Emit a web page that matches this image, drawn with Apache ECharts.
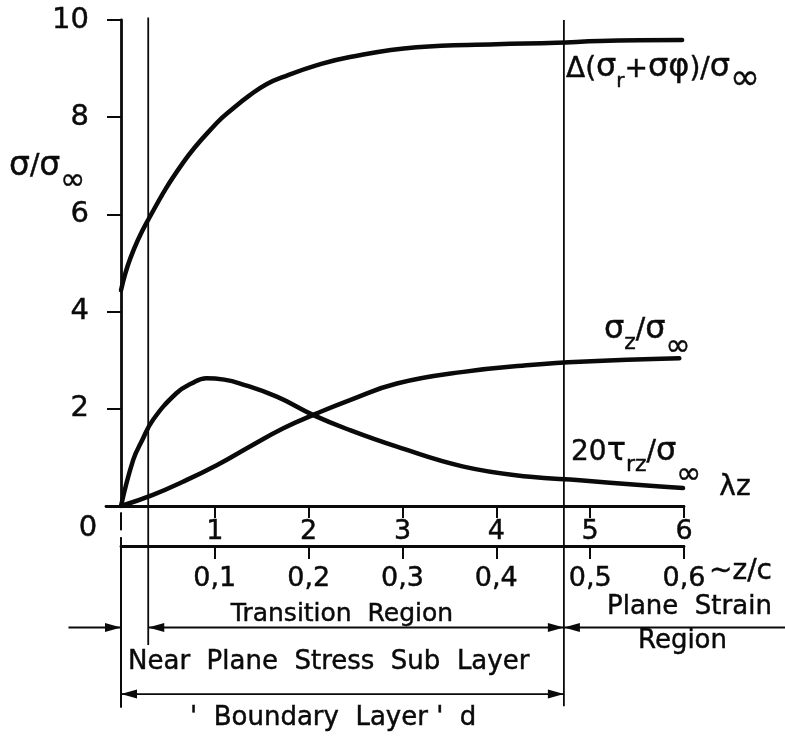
<!DOCTYPE html>
<html><head><meta charset="utf-8">
<script src="https://cdn.jsdelivr.net/npm/echarts@6/dist/echarts.min.js"></script>
<style>html,body{margin:0;padding:0;background:#fff}#c{width:785px;height:742px}</style>
</head><body><div id="c"></div>
<script>
// ---- data ----
const yTicks = [0, 2, 4, 6, 8, 10];
const xTicks = [1, 2, 3, 4, 5, 6];              // λz
const zcTicks = [0.1, 0.2, 0.3, 0.4, 0.5, 0.6]; // z/c

const sumLambda = [0, 0.1, 0.27, 0.66, 1.02, 1.2, 1.37, 1.55, 1.73, 2.09, 2.44, 3.15, 4.0, 4.64, 5.1, 5.98];
const sumValues = [4.44, 5.1, 5.82, 7.06, 7.88, 8.19, 8.45, 8.68, 8.83, 9.07, 9.24, 9.44, 9.5, 9.53, 9.57, 9.59];

const szLambda = [0, 0.34, 0.66, 1.02, 1.37, 1.73, 2.08, 2.44, 2.94, 3.65, 4.36, 4.89, 5.95];
const szValues = [0, 0.23, 0.5, 0.84, 1.22, 1.6, 1.9, 2.18, 2.52, 2.76, 2.9, 2.97, 3.04];

const tauLambda = [0, 0.13, 0.22, 0.34, 0.59, 0.75, 0.91, 1.1, 1.27, 1.66, 2.05, 2.44, 2.94, 3.65, 4.36, 4.89, 5.53, 5.99];
const tauValues = [0, 0.95, 1.33, 1.77, 2.32, 2.52, 2.63, 2.6, 2.52, 2.25, 1.87, 1.56, 1.22, 0.81, 0.6, 0.53, 0.43, 0.37];

// region edges in λz: surface, near-plane-stress sub layer edge, boundary layer edge
const regionEdges = [0, 0.29, 4.72];

// ---- layout / style ----
const FONT = 'DejaVu Sans';
const ink = '#0a0a0a';
const TW = 0.45;             // text thickening
const arrowLevel = -2.5;     // y (data units) of transition arrow row
const boundaryLevel = -3.87; // y of boundary layer arrow row

const chart = echarts.init(document.getElementById('c'));

const curve = (name, xs, ys) => ({
  name, type: 'line', xAxisIndex: 0, yAxisIndex: 0,
  data: xs.map((x, i) => [x, ys[i]]),
  smooth: 0.45, symbol: 'none', silent: true, z: 3,
  lineStyle: { color: ink, width: 4.5, cap: 'round', join: 'round' }
});
const vline = (l, top, bottom, w) => ({
  type: 'line', xAxisIndex: 0, yAxisIndex: 0, data: [[l, top], [l, bottom]],
  clip: false, symbol: 'none', silent: true, z: 2,
  lineStyle: { color: ink, width: w }
});
const lbl = (size, extra) => Object.assign({
  color: ink, fontFamily: FONT, fontSize: size, textBorderColor: ink, textBorderWidth: TW
}, extra);

chart.setOption({
  animation: false,
  backgroundColor: '#fff',
  grid: [
    { left: 106, right: 101, top: 20, bottom: 236 },
    { left: 121, right: 101, top: 545, height: 1 }
  ],
  xAxis: [
    {
      gridIndex: 0, type: 'value', min: -0.16, max: 6,
      axisLine: { lineStyle: { color: ink, width: 2.8 } },
      axisTick: { customValues: xTicks, length: 12, lineStyle: { color: ink, width: 2 } },
      axisLabel: lbl(27, { customValues: xTicks, margin: 12 }),
      splitLine: { show: false }
    },
    {
      gridIndex: 1, type: 'value', min: 0, max: 0.6, interval: 0.1,
      axisLine: { lineStyle: { color: ink, width: 2.8 } },
      axisTick: { customValues: zcTicks, length: 13, lineStyle: { color: ink, width: 2 } },
      axisLabel: lbl(27, {
        customValues: zcTicks, margin: 19,
        formatter: v => Number(v).toFixed(1).replace('.', ',')
      }),
      splitLine: { show: false }
    }
  ],
  yAxis: [
    {
      gridIndex: 0, type: 'value', min: 0, max: 10, interval: 2,
      axisLine: { onZero: true, lineStyle: { color: ink, width: 2.8 } },
      axisTick: { length: 14, lineStyle: { color: ink, width: 2 } },
      axisLabel: lbl(29, { margin: 17, formatter: v => (v === 0 ? '' : String(v)) }),
      splitLine: { show: false }
    },
    { gridIndex: 1, type: 'value', min: 0, max: 1, show: false }
  ],
  series: [
    curve('sum', sumLambda, sumValues),
    curve('sz', szLambda, szValues),
    curve('tau', tauLambda, tauValues),
    vline(regionEdges[0], -0.13, -0.5, 2),
    vline(regionEdges[0], -0.64, -4.15, 2),
    vline(regionEdges[1], 10.05, -2.86, 1.8),
    vline(regionEdges[2], 10.0, -4.12, 1.8)
  ]
});

// ---- annotations positioned through the chart's scales ----
const px = (l, v) => chart.convertToPixel({ gridIndex: 0 }, [l, v]);
const g = [];
function head(x, y, dir) { // dir -1 = points left, +1 = points right
  const L = 16, H = 4.5;
  g.push({ type: 'polygon', silent: true, z: 10,
    shape: { points: [[x, y], [x - dir * L, y - H], [x - dir * L, y + H]] },
    style: { fill: ink } });
}
function arrow(l1, l2, v, h1, h2) {
  const a = px(l1, v), b = px(l2, v);
  g.push({ type: 'line', silent: true, z: 10,
    shape: { x1: a[0], y1: a[1], x2: b[0], y2: b[1] },
    style: { stroke: ink, lineWidth: 1.8 } });
  if (h1) head(a[0], a[1], -1);
  if (h2) head(b[0], b[1], 1);
}
arrow(-0.56, regionEdges[0], arrowLevel, false, true);
arrow(regionEdges[1], regionEdges[2], arrowLevel, true, true);
arrow(regionEdges[2], 7.2, arrowLevel, true, false);
arrow(regionEdges[0], regionEdges[2], boundaryLevel, true, true);

const tok = (size, drop) => ({
  fontFamily: FONT, fontSize: size, fill: ink, stroke: ink, lineWidth: TW,
  verticalAlign: 'top', lineHeight: size, padding: [drop || 0, 0, 0, 0]
});
function txt(x, y, text, size, align) {
  g.push({ type: 'text', x, y, silent: true, z: 20,
    style: { text, fill: ink, stroke: ink, lineWidth: TW, fontFamily: FONT, fontSize: size || 26,
      align: align || 'left', verticalAlign: 'middle' } });
}
function rich(x, y, text, richDef) {
  g.push({ type: 'text', x, y, silent: true, z: 20,
    style: { text, rich: richDef, align: 'left', verticalAlign: 'top' } });
}

rich(9, 150, '{g|σ}{m|/}{g|σ}{i|∞}', { g: tok(33, 0), m: tok(28, 3), i: tok(30, 16) });
rich(566, 52, '{m|Δ(}{g|σ}{s|r}{m|+}{g|σφ}{m|)/}{g|σ}{i|∞}',
  { m: tok(28, 4), g: tok(32, 0), s: tok(20, 20), i: tok(36, 10) });
rich(604, 314, '{g|σ}{s|z}{m|/}{g|σ}{i|∞}',
  { m: tok(28, 3), g: tok(32, 0), s: tok(22, 18), i: tok(30, 18) });
rich(571, 436, '{m|20}{g|τ}{s|rz}{m|/}{g|σ}{i|∞}',
  { m: tok(28, 3), g: tok(32, 0), s: tok(22, 18), i: tok(30, 24) });

txt(735, 488, 'λz', 28, 'center');
txt(88, 528, '0', 29, 'center');
txt(709, 572, '~z/c', 28);
txt(342, 614, 'Transition  Region', 25, 'center');
txt(128, 662, 'Near  Plane  Stress  Sub  Layer', 26);
txt(190, 718, '\'  Boundary  Layer \'  d', 26);
txt(607, 607, 'Plane  Strain', 26);
txt(638, 641, 'Region', 26);

chart.setOption({ graphic: g });
</script></body></html>
